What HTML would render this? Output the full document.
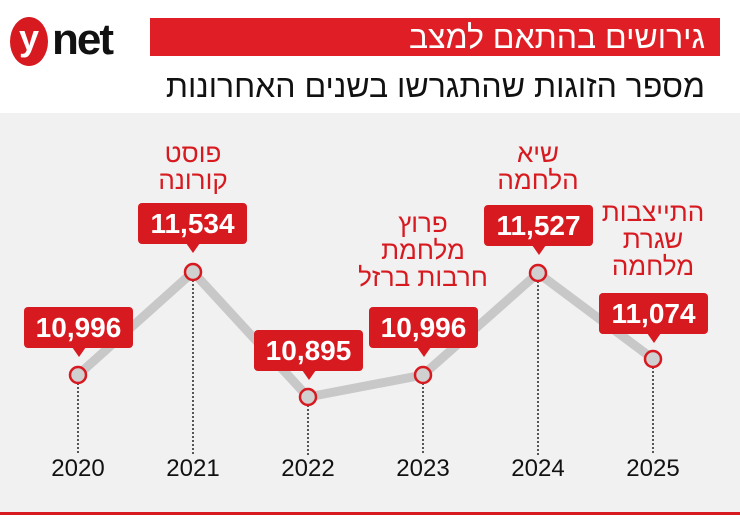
<!DOCTYPE html>
<html><head><meta charset="utf-8"><style>
body{margin:0;width:740px;height:527px;background:#fff;overflow:hidden;position:relative;font-family:"Liberation Sans","Noto Sans CJK JP",sans-serif}
.abs{position:absolute}
.box{position:absolute;width:109px;height:41px;background:#d71920;border-radius:4px;color:#fff;font-weight:bold;font-size:28px;line-height:41px;text-align:center}
.box:after{content:"";position:absolute;left:50%;margin-left:-7px;bottom:-9px;border-left:7px solid transparent;border-right:7px solid transparent;border-top:10px solid #d71920}
.ann{position:absolute;color:#d71920;font-size:26px;line-height:27px;text-align:center;width:140px;direction:rtl}
.yr{position:absolute;top:455px;width:80px;text-align:center;font-size:24px;color:#111}
</style></head><body>
<div class="abs" style="left:0;top:113px;width:740px;height:400px;background:#f1f1f1"></div>
<div class="abs" style="left:0;top:512px;width:740px;height:3px;background:#d71920"></div>
<div class="abs" style="left:10px;top:17px;width:38px;height:49px;border-radius:50%;background:#d71920;color:#fff;font-size:36px;font-weight:bold;text-align:center;line-height:42px">y</div>
<div class="abs" style="left:52px;top:13px;font-size:44px;font-weight:bold;color:#111;letter-spacing:-2px;line-height:54px">net</div>
<div class="abs" style="left:150px;top:18px;width:570px;height:38px;background:#e01e26;color:#fff;font-size:32px;line-height:38px;text-align:right;direction:rtl;padding-right:15px;box-sizing:border-box">גירושים בהתאם למצב</div>
<div class="abs" style="left:90px;top:66px;width:615px;font-size:32px;line-height:40px;text-align:right;direction:rtl;color:#111">מספר הזוגות שהתגרשו בשנים האחרונות</div>
<svg class="abs" style="left:0;top:0" width="740" height="527">
<g stroke="#222" stroke-width="1.5" stroke-dasharray="2,2">
<line x1="78" y1="383" x2="78" y2="455"/><line x1="193" y1="280" x2="193" y2="455"/><line x1="308" y1="405" x2="308" y2="455"/><line x1="423" y1="383" x2="423" y2="455"/><line x1="538" y1="281" x2="538" y2="455"/><line x1="653" y1="367" x2="653" y2="455"/>
</g>
<polyline points="78,375 193,272 308,397 423,375 538,273 653,359" fill="none" stroke="#c8c8c8" stroke-width="9" stroke-linejoin="miter"/>
<g fill="#d0d0d0" stroke="#d71920" stroke-width="2.5">
<circle cx="78" cy="375" r="8"/><circle cx="193" cy="272" r="8"/><circle cx="308" cy="397" r="8"/><circle cx="423" cy="375" r="8"/><circle cx="538" cy="273" r="8"/><circle cx="653" cy="359" r="8"/>
</g>
</svg>
<div class="box" style="left:24px;top:307px">10,996</div>
<div class="box" style="left:138px;top:203px">11,534</div>
<div class="box" style="left:254px;top:330px">10,895</div>
<div class="box" style="left:369px;top:307px">10,996</div>
<div class="box" style="left:484px;top:205px">11,527</div>
<div class="box" style="left:599px;top:293px">11,074</div>
<div class="ann" style="left:123px;top:140px">פוסט<br>קורונה</div>
<div class="ann" style="left:353px;top:210px">פרוץ<br>מלחמת<br>חרבות ברזל</div>
<div class="ann" style="left:468px;top:140px">שיא<br>הלחמה</div>
<div class="ann" style="left:583px;top:199px">התייצבות<br>שגרת<br>מלחמה</div>
<div class="yr" style="left:38px">2020</div>
<div class="yr" style="left:153px">2021</div>
<div class="yr" style="left:268px">2022</div>
<div class="yr" style="left:383px">2023</div>
<div class="yr" style="left:498px">2024</div>
<div class="yr" style="left:613px">2025</div>
</body></html>
